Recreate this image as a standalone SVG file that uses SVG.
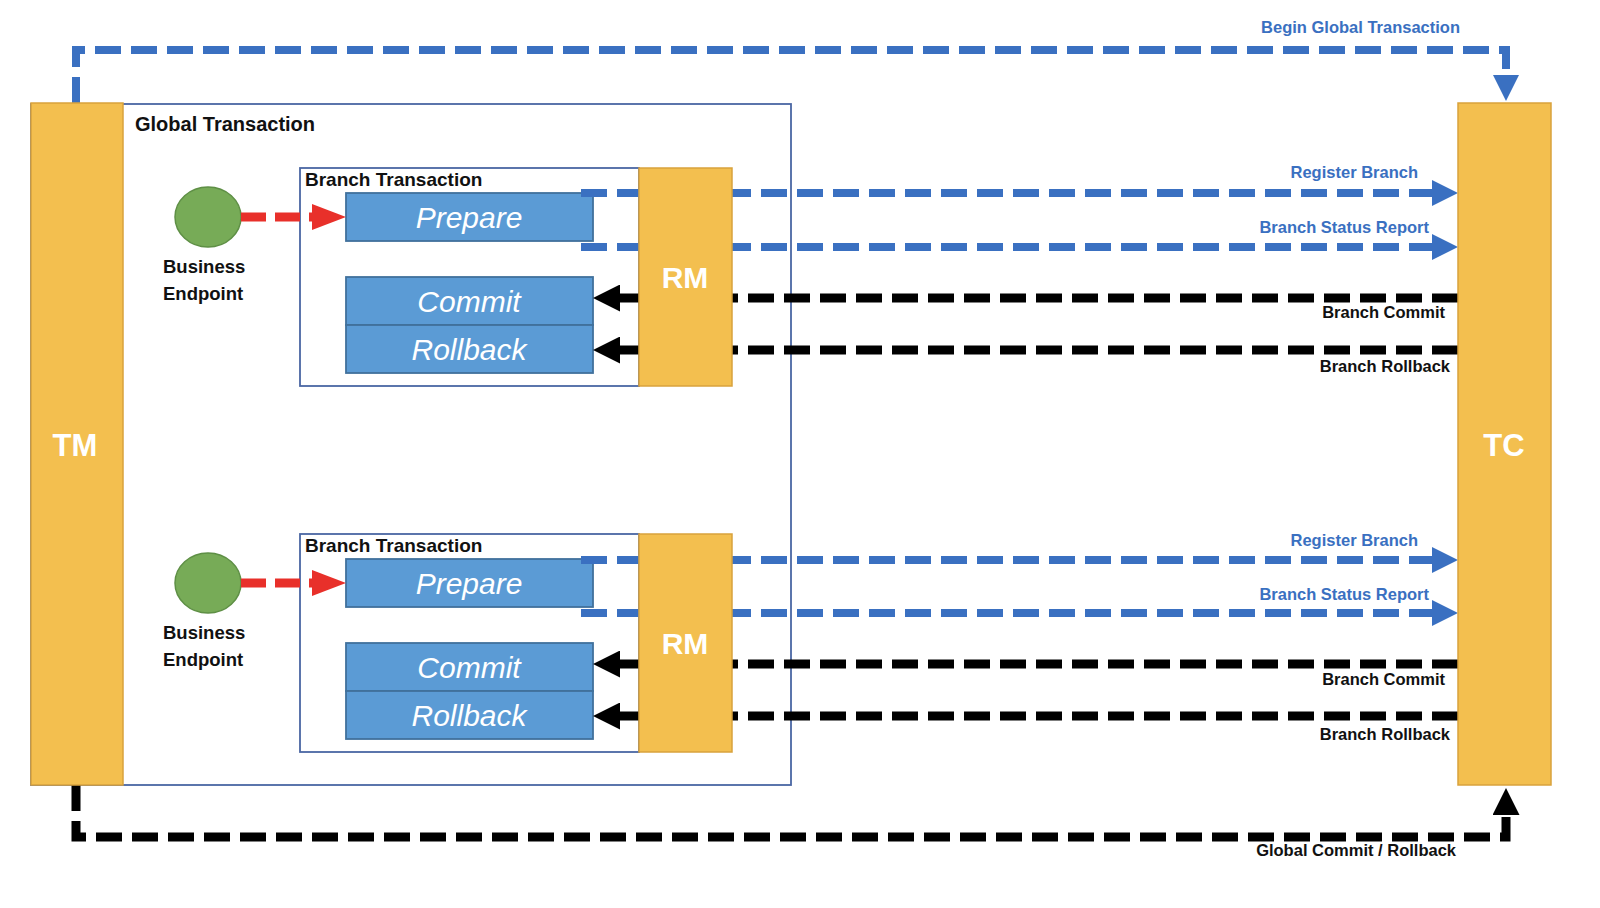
<svg xmlns="http://www.w3.org/2000/svg" width="1600" height="908" viewBox="0 0 1600 908">
<defs>
<style>
.bar{fill:#F3BF4F;stroke:#D9A23C;stroke-width:1.5}
.frame{fill:none;stroke:#4A66A3;stroke-width:1.8}
.op{fill:#5B9BD5;stroke:#41719C;stroke-width:1.8}
.bigw{font-family:"Liberation Sans",Arial,sans-serif;font-weight:bold;fill:#FFFFFF;text-anchor:middle}
.opt{font-family:"Liberation Sans",Arial,sans-serif;font-style:italic;font-size:30px;fill:#FFFFFF;text-anchor:middle}
.hdr{font-family:"Liberation Sans",Arial,sans-serif;font-weight:bold;fill:#111111}
.lblb{font-family:"Liberation Sans",Arial,sans-serif;font-weight:bold;font-size:16.5px;fill:#3A70C1;text-anchor:end}
.lblk{font-family:"Liberation Sans",Arial,sans-serif;font-weight:bold;font-size:16.5px;fill:#111111;text-anchor:end}
.bd{fill:none;stroke:#3A70C1;stroke-width:8;stroke-dasharray:26 10}
.kd{fill:none;stroke:#000000;stroke-width:9;stroke-dasharray:26 10}
.ks{fill:none;stroke:#000000;stroke-width:9}
.rd{fill:none;stroke:#E8302A;stroke-width:9;stroke-dasharray:25 9}
</style>
<marker id="ab" viewBox="0 0 26 26" refX="0" refY="13" markerWidth="26" markerHeight="26" markerUnits="userSpaceOnUse" orient="auto"><path d="M0,0 L26,13 L0,26 Z" fill="#3A70C1"/></marker>
<marker id="ak" viewBox="0 0 27 27" refX="0" refY="13.5" markerWidth="27" markerHeight="27" markerUnits="userSpaceOnUse" orient="auto"><path d="M0,0 L27,13.5 L0,27 Z" fill="#000000"/></marker>
<marker id="ar" viewBox="0 0 34 26" refX="0" refY="13" markerWidth="34" markerHeight="26" markerUnits="userSpaceOnUse" orient="auto"><path d="M0,0 L34,13 L0,26 Z" fill="#E8302A"/></marker>
</defs>
<rect width="1600" height="908" fill="#FFFFFF"/>

<g id="global-transaction">
<rect class="frame" x="31" y="104" width="760" height="681"/>
<text class="hdr" x="135" y="131" font-size="20">Global Transaction</text>
</g>

<g id="branch-1">
<rect class="frame" x="300" y="168" width="339" height="218"/>
<text class="hdr" x="305" y="186" font-size="19">Branch Transaction</text>
</g>
<g id="branch-2">
<rect class="frame" x="300" y="534" width="339" height="218"/>
<text class="hdr" x="305" y="552" font-size="19">Branch Transaction</text>
</g>

<g id="endpoint-1">
<ellipse cx="208" cy="217" rx="33" ry="30" fill="#77AB57" stroke="#5E8F45" stroke-width="1.5"/>
<text class="hdr" x="163" y="273" font-size="18.5">Business</text>
<text class="hdr" x="163" y="300" font-size="18.5">Endpoint</text>
</g>
<g id="endpoint-2">
<ellipse cx="208" cy="583" rx="33" ry="30" fill="#77AB57" stroke="#5E8F45" stroke-width="1.5"/>
<text class="hdr" x="163" y="639" font-size="18.5">Business</text>
<text class="hdr" x="163" y="666" font-size="18.5">Endpoint</text>
</g>

<g id="prepare-1"><rect class="op" x="346" y="193" width="247" height="48"/><text class="opt" x="469" y="228">Prepare</text></g>
<g id="commit-1"><rect class="op" x="346" y="277" width="247" height="48"/><text class="opt" x="469" y="312">Commit</text></g>
<g id="rollback-1"><rect class="op" x="346" y="325" width="247" height="48"/><text class="opt" x="469" y="360">Rollback</text></g>
<g id="prepare-2"><rect class="op" x="346" y="559" width="247" height="48"/><text class="opt" x="469" y="594">Prepare</text></g>
<g id="commit-2"><rect class="op" x="346" y="643" width="247" height="48"/><text class="opt" x="469" y="678">Commit</text></g>
<g id="rollback-2"><rect class="op" x="346" y="691" width="247" height="48"/><text class="opt" x="469" y="726">Rollback</text></g>

<g id="connectors">
<path class="bd" d="M76,103 L76,50 L1506,50 L1506,75" marker-end="url(#ab)"/>
<path class="kd" d="M76,785 L76,837 L1506,837 L1506,815" marker-end="url(#ak)"/>
<path class="rd" d="M241,217 L312,217" marker-end="url(#ar)"/>
<path class="rd" d="M241,583 L312,583" marker-end="url(#ar)"/>
<path class="bd" d="M581,193 L1432,193" marker-end="url(#ab)"/>
<path class="bd" d="M581,247 L1432,247" marker-end="url(#ab)"/>
<path class="bd" d="M581,560 L1432,560" marker-end="url(#ab)"/>
<path class="bd" d="M581,613 L1432,613" marker-end="url(#ab)"/>
<path class="kd" d="M1458,298 L732,298"/>
<path class="ks" d="M639,298 L620,298" marker-end="url(#ak)"/>
<path class="kd" d="M1458,350 L732,350"/>
<path class="ks" d="M639,350 L620,350" marker-end="url(#ak)"/>
<path class="kd" d="M1458,664 L732,664"/>
<path class="ks" d="M639,664 L620,664" marker-end="url(#ak)"/>
<path class="kd" d="M1458,716 L732,716"/>
<path class="ks" d="M639,716 L620,716" marker-end="url(#ak)"/>
<text class="lblb" x="1460" y="33">Begin Global Transaction</text>
<text class="lblb" x="1418" y="178">Register Branch</text>
<text class="lblb" x="1429" y="233">Branch Status Report</text>
<text class="lblk" x="1445" y="318">Branch Commit</text>
<text class="lblk" x="1450" y="372">Branch Rollback</text>
<text class="lblb" x="1418" y="546">Register Branch</text>
<text class="lblb" x="1429" y="600">Branch Status Report</text>
<text class="lblk" x="1445" y="685">Branch Commit</text>
<text class="lblk" x="1450" y="740">Branch Rollback</text>
<text class="lblk" x="1456" y="856">Global Commit / Rollback</text>
</g>

<g id="rm-1"><rect class="bar" x="639" y="168" width="93" height="218"/><text class="bigw" x="685" y="288" font-size="30">RM</text></g>
<g id="rm-2"><rect class="bar" x="639" y="534" width="93" height="218"/><text class="bigw" x="685" y="654" font-size="30">RM</text></g>

<g id="tm"><rect class="bar" x="31" y="103" width="92" height="682"/><text class="bigw" x="75" y="456" font-size="31">TM</text></g>
<g id="tc"><rect class="bar" x="1458" y="103" width="93" height="682"/><text class="bigw" x="1504" y="456" font-size="31">TC</text></g>
</svg>
